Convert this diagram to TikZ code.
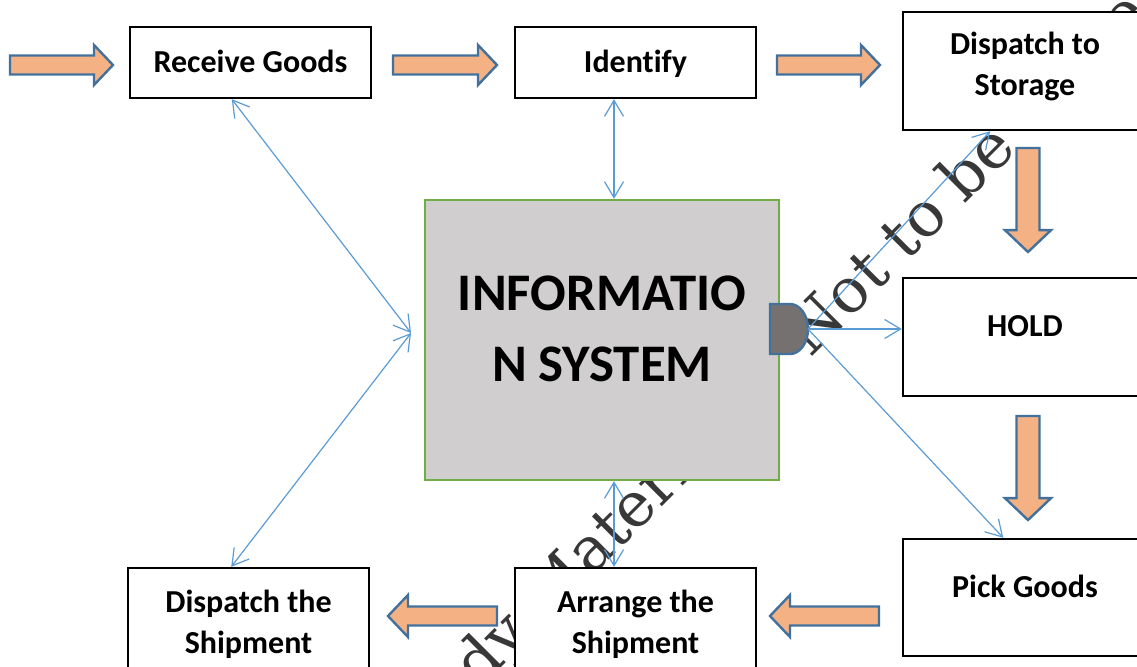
\documentclass[tikz,border=0pt]{standalone}
\usepackage{fontspec}
\setsansfont{Carlito}[Ligatures=NoCommon]
\newfontfamily\stampfont{DejaVu Serif}
\usetikzlibrary{arrows.meta,calc}
\definecolor{fillorange}{HTML}{F4B183}
\definecolor{edgeblue}{HTML}{41719C}
\definecolor{linkblue}{HTML}{5B9BD5}
\definecolor{infogray}{HTML}{D0CECE}
\definecolor{infogreen}{HTML}{70AD47}
\definecolor{delaygray}{HTML}{767171}
% block arrow: centre x, centre y, direction, length, head width, shaft width
\newcommand\flowarrow[6]{%
  \draw[flow, shift={(#1,#2)}, rotate=#3]
    ({-#4/2},{-#6/2}) -- ({#4/2-0.95*#5/2},{-#6/2}) -- ({#4/2-0.95*#5/2},{-#5/2})
    -- ({#4/2},0) -- ({#4/2-0.95*#5/2},{#5/2}) -- ({#4/2-0.95*#5/2},{#6/2})
    -- ({-#4/2},{#6/2}) -- cycle;}
\begin{document}
\begin{tikzpicture}[x=0.5pt,y=-0.5pt,
  stage/.style 2 args={draw=black, line width=1.2pt, fill=white, inner sep=0pt,
    minimum width=#1*0.5pt, minimum height=#2*0.5pt},
  caption/.style={font=\sffamily\bfseries\fontsize{16}{20.5}\selectfont,
    align=center, inner sep=0pt},
  bigcaption/.style={font=\sffamily\bfseries\fontsize{26.4}{35.5}\selectfont,
    align=center, inner sep=0pt},
  flow/.style={draw=edgeblue, fill=fillorange, line width=1.2pt, line join=miter},
  link/.style={draw=linkblue, line width=0.6pt},
  >={Straight Barb[length=8pt,width=9.5pt]},
  stamp/.style={font=\stampfont\fontsize{31}{36}\selectfont, text=black!78,
    inner sep=0pt, rotate=45}]

\clip (0,0) rectangle (1137,666);

% diagonal stamp behind everything
\node[stamp, anchor=base west] (stampb) at (810,359) {Not to be copied};
\node[stamp, anchor=base east] (stampa) at (794,375) {Study Material ©};

% process boxes
\node[stage={241}{71}]  (recv)    at (250.5,62.5) {};
\node[stage={241}{71}]  (ident)   at (635.5,62.5) {};
\node[stage={244}{118}] (storage) at (1025,71) {};
\node[stage={244}{118}] (hold)    at (1025,337) {};
\node[stage={244}{117}] (pick)    at (1025,597.5) {};
\node[stage={241}{118}] (arrange) at (635.5,627) {};
\node[stage={241}{118}] (dship)   at (248.5,627) {};

\node[caption, anchor=base] (recvt)  at (250.5,72) {Receive Goods};
\node[caption, anchor=base] (identt) at (635.5,72) {Identify};
\node[caption] (storaget) at (1025,66.5) {Dispatch to\\Storage};
\node[caption, anchor=base] (holdt)  at (1025,336) {HOLD};
\node[caption, anchor=base] (pickt)  at (1025,597) {Pick Goods};
\node[caption] (arranget) at (635.5,624) {Arrange the\\Shipment};
\node[caption] (dshipt)   at (248.5,624) {Dispatch the\\Shipment};

% information system
\node[draw=infogreen, fill=infogray, line width=1.2pt, inner sep=0pt,
  minimum width=354*0.5pt, minimum height=280*0.5pt] (info) at (602,340) {};
\node[bigcaption] (infot) at (602,328.5) {INFORMATIO\\N SYSTEM};

% delay symbol on the right side of the information system
\draw[draw=edgeblue, fill=delaygray, line width=1.2pt]
  (770,304) -- (790,304) arc[start angle=-90, end angle=90, x radius=18, y radius=25]
  -- (770,354) -- cycle;
\coordinate (delay) at (808,329);
\coordinate (hub) at (411,333);
\coordinate (vbus) at (614,0);

% material flow
\flowarrow{61.5}{65}{0}{103}{40}{19}
\flowarrow{445}{65}{0}{104}{40}{19}
\flowarrow{828.5}{65}{0}{103}{40}{19}
\flowarrow{1028}{200}{-90}{104}{46}{23}
\flowarrow{1028}{468}{-90}{104}{46}{23}
\flowarrow{824.5}{616}{180}{109}{42}{19}
\flowarrow{442.5}{616}{180}{109}{42}{19}

% information links
\draw[link,<->] (recv.243.8) -- (hub);
\draw[link,<->] (dship.106.5) -- (hub);
\draw[link,<->] (ident.south -| vbus) -- (info.north -| vbus);
\draw[link,<->] (info.south -| vbus) -- (arrange.north -| vbus);
\draw[link,->] (delay) -- (storage.240.8);
\draw[link,->] (delay) -- (delay -| hold.west);
\draw[link,->] (delay) -- (pick.110.6);
\end{tikzpicture}
\end{document}
